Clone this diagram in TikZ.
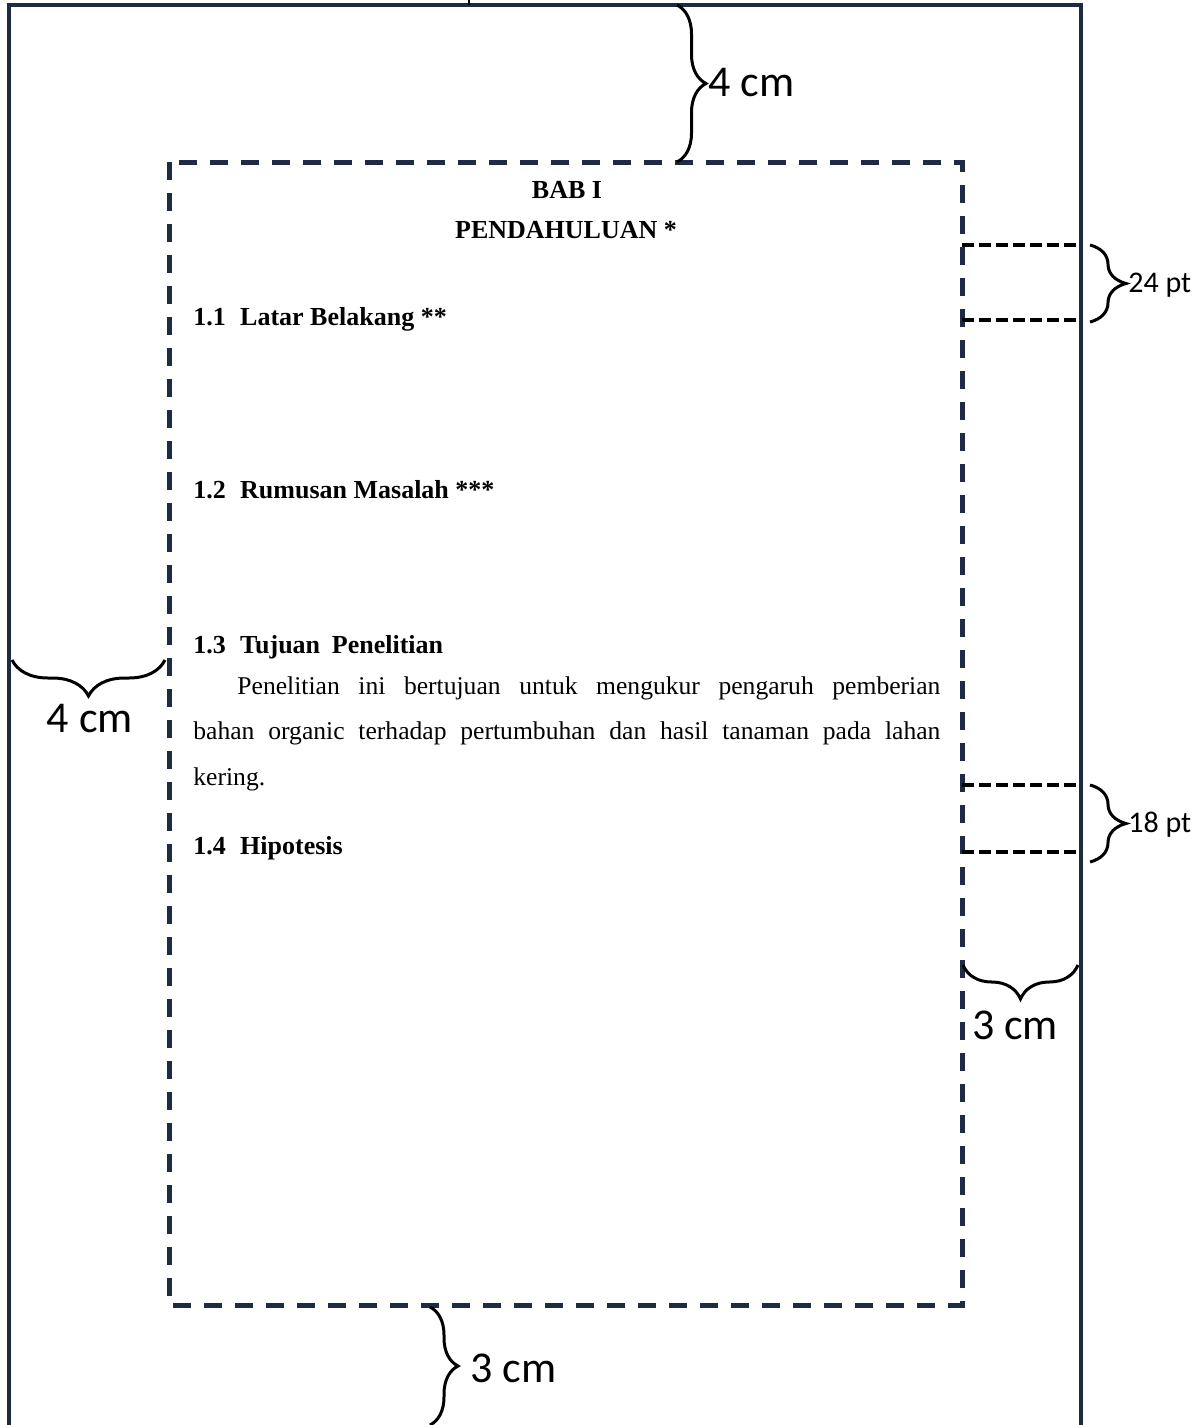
\documentclass[tikz,border=0pt]{standalone}
\usepackage{fontspec}
\setmainfont{Liberation Serif}
\newfontfamily\labelfont{Carlito}
\usetikzlibrary{decorations.pathreplacing}
\definecolor{pagenavy}{RGB}{31,42,68}
\tikzset{
  pageedge/.style={draw=pagenavy, line width=2pt},
  textarea/.style={draw=pagenavy, line width=2.5pt, dash pattern=on 9pt off 6.5pt},
  gapline/.style={draw=black, line width=2pt, dash pattern=on 6pt off 2.5pt},
  sizebrace/.style={draw=black, line width=1.5pt, decorate, decoration={brace, amplitude=#1}},
  cmlabel/.style={font=\labelfont\fontsize{22}{26}\selectfont, inner sep=0pt},
  ptlabel/.style={font=\labelfont\fontsize{15}{18}\selectfont, inner sep=0pt},
  heading/.style={font=\bfseries\fontsize{13}{15}\selectfont, inner sep=0pt},
  bodyline/.style={font=\fontsize{12.8}{15}\selectfont, inner sep=0pt},
}
\begin{document}
\begin{tikzpicture}[x=0.5pt,y=-0.5pt]
                \useasboundingbox (0,0) rectangle (1202,1425);
                \clip (0,0) rectangle (1202,1425);
                % page edge and text area
                \draw (9,1440) coordinate (PL);
                \draw (9,5) coordinate (PTL);
                \draw (1081,5) coordinate (PTR);
                \draw (1081,1440) coordinate (PR);
                \draw (469,0) coordinate (TK1);
                \draw (469,5) coordinate (TK2);
                \draw (169,162) coordinate (TA);
                \draw (962,1305) coordinate (TB);
                \draw[pageedge] (PL) -- (PTL) -- (PTR) -- (PR);
                \draw[line width=0.6pt] (TK1) -- (TK2);
                \draw[textarea] (TA) rectangle (TB);
                % spacing lines
                \draw (962,245) coordinate (S24a);
                \draw (1081,245) coordinate (S24b);
                \draw (962,320) coordinate (S24c);
                \draw (1081,320) coordinate (S24d);
                \draw (962,785) coordinate (S18a);
                \draw (1081,785) coordinate (S18b);
                \draw (962,852) coordinate (S18c);
                \draw (1081,852) coordinate (S18d);
                \draw[gapline] (S24a) -- (S24b);
                \draw[gapline] (S24c) -- (S24d);
                \draw[gapline] (S18a) -- (S18b);
                \draw[gapline] (S18c) -- (S18d);
                % braces
                \draw (677,5) coordinate (BT1);
                \draw (677,162) coordinate (BT2);
                \draw (165,660) coordinate (BL1);
                \draw (12,660) coordinate (BL2);
                \draw (1078,965) coordinate (BR1);
                \draw (963,965) coordinate (BR2);
                \draw (430,1307) coordinate (BB1);
                \draw (430,1425) coordinate (BB2);
                \draw (1090,245) coordinate (B24a);
                \draw (1090,322) coordinate (B24b);
                \draw (1090,785) coordinate (B18a);
                \draw (1090,862) coordinate (B18b);
                \draw[sizebrace=14.5pt] (BT1) -- (BT2);
                \draw[sizebrace=18pt] (BL1) -- (BL2);
                \draw[sizebrace=17pt] (BR1) -- (BR2);
                \draw[sizebrace=14pt] (BB1) -- (BB2);
                \draw[sizebrace=18pt] (B24a) -- (B24b);
                \draw[sizebrace=18pt] (B18a) -- (B18b);
                \draw (708,83) node[cmlabel, anchor=west] (cmtop) {4 cm};
                \draw (90,719) node[cmlabel] (cmleft) {4 cm};
                \draw (1015,1025) node[cmlabel] (cmright) {3 cm};
                \draw (470,1368) node[cmlabel, anchor=west] (cmbottom) {3 cm};
                \draw (1128,285) node[ptlabel, anchor=west] (pt24) {24 pt};
                \draw (1128,825) node[ptlabel, anchor=west] (pt18) {18 pt};
                % page text
                \draw (567,198) node[heading, anchor=base] (bab) {BAB I};
                \draw (566,238) node[heading, anchor=base] (judul) {PENDAHULUAN *};
                \draw (193,325) node[heading, anchor=base west] (sub1) {1.1\hspace{0.55em}Latar Belakang **};
                \draw (193,498) node[heading, anchor=base west] (sub2) {1.2\hspace{0.55em}Rumusan Masalah ***};
                \draw (193,653) node[heading, anchor=base west] (sub3) {1.3\hspace{0.55em}Tujuan\hspace{0.45em}Penelitian};
                \draw (237,694) node[bodyline, anchor=base west] (par1) {\makebox[351.5pt][s]{Penelitian ini bertujuan untuk mengukur pengaruh pemberian}};
                \draw (193,739) node[bodyline, anchor=base west] (par2) {\makebox[373.5pt][s]{bahan organic terhadap pertumbuhan dan hasil tanaman pada lahan}};
                \draw (193,785) node[bodyline, anchor=base west] (par3) {kering.};
                \draw (193,854) node[heading, anchor=base west] (sub4) {1.4\hspace{0.55em}Hipotesis};
            \end{tikzpicture}
\end{document}
